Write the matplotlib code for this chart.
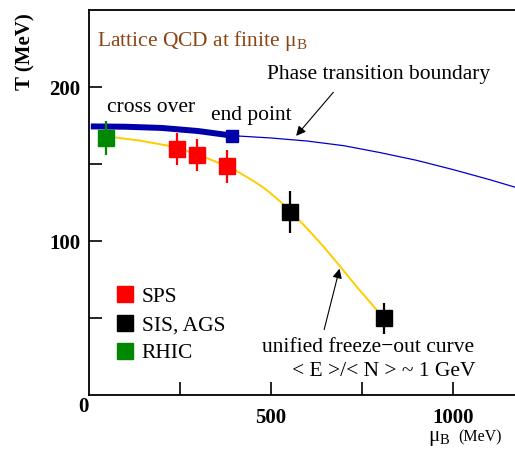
import matplotlib.pyplot as plt
from matplotlib.lines import Line2D

plt.rcParams['font.family'] = ['Liberation Serif', 'DejaVu Serif']
plt.rcParams['mathtext.fontset'] = 'custom'
plt.rcParams['mathtext.rm'] = 'Liberation Serif'
plt.rcParams['mathtext.it'] = 'Liberation Serif:italic'

# data (mu_B in MeV, T in MeV)
sps_mu = [243, 297, 378]
sps_T = [160, 156, 148.6]
sps_err = [10.5, 10.6, 10.6]
sis_mu = [552, 810]
sis_T = [119, 50]
sis_err = [13.3, 10.3]
rhic_mu = [47]
rhic_T = [167]
rhic_err = [10.8]
end_mu = [394]
end_T = [168.5]

# lattice cross over (thick) and phase transition boundary (thin)
cross_mu = [5, 100, 200, 300, 394]
cross_T = [174.5, 174.3, 173.5, 171.5, 168.5]
phase_mu = [394, 500, 600, 700, 800, 900, 1000, 1100, 1200]
phase_T = [168.5, 167, 165, 162, 157.5, 152.5, 146.5, 140, 133]

# unified freeze-out curve
fo_mu = [47, 70, 140, 213, 270, 323, 351, 401, 451, 475, 497, 529, 552, 580, 612, 644, 690,
         735, 790, 810]
fo_T = [167, 167.4, 165.3, 162.2, 158.5, 154, 151.4, 146.2, 139.2, 135.5, 131.5, 125, 119.5,
        113, 105, 96.6, 83.6, 70.6, 55.5, 50]

fig = plt.figure(figsize=(5.15, 4.57), dpi=100)
ax = fig.add_axes([0.1728, 0.1346, 0.8272, 0.8435])
ax.set_xlim(0, 1170)
ax.set_ylim(0, 250)

ax.plot(fo_mu, fo_T, color='#ffcc00', lw=1.4, zorder=2)
ax.plot(cross_mu, cross_T, color='#0000aa', lw=4.3, solid_capstyle='butt', zorder=3)
ax.plot(phase_mu, phase_T, color='#0000cc', lw=0.9, zorder=3)

def points(mu, T, err, c):
    ax.errorbar(mu, T, yerr=err, fmt='s', color=c, ms=11.5, mec=c, elinewidth=1.6,
                capsize=0, zorder=4)

points(sps_mu, sps_T, sps_err, '#ff0000')
points(sis_mu, sis_T, sis_err, 'black')
points(rhic_mu, rhic_T, rhic_err, '#008800')
ax.plot(end_mu, end_T, 's', color='#0000aa', ms=8.5, zorder=5)

# texts
fs = 15.5
ax.text(22, 226.5, 'Lattice QCD at finite μ$_\\mathrm{B}$', color='#8B4513', fontsize=fs,
        va='baseline')
ax.text(488, 205.5, 'Phase transition boundary', fontsize=fs, va='baseline')
ax.text(49, 183.6, 'cross over', fontsize=fs, va='baseline')
ax.text(335, 178.4, 'end point', fontsize=fs, va='baseline')
ax.text(476, 28.4, 'unified freeze\u2212out curve', fontsize=fs, va='baseline')
ax.text(558, 12.7, '< E >/< N > ~ 1 GeV', fontsize=fs, va='baseline')

arrow = dict(arrowstyle='-|>', color='black', lw=0.8, mutation_scale=14)
ax.annotate('', xy=(564, 167), xytext=(676, 198), arrowprops=arrow)
ax.annotate('', xy=(690, 84), xytext=(644, 41), arrowprops=arrow)

# legend
handles = [Line2D([], [], ls='none', marker='s', ms=11.5, color=c)
           for c in ['#ff0000', 'black', '#008800']]
ax.legend(handles, ['SPS', 'SIS, AGS', 'RHIC'], loc='upper left',
          bbox_to_anchor=(0.04, 0.31), frameon=False, fontsize=fs,
          handlelength=0.8, handletextpad=0.35, labelspacing=0.38, borderpad=0)

# axes styling
ax.spines['right'].set_visible(False)
for s in ['left', 'bottom', 'top']:
    ax.spines[s].set_linewidth(1.3)
ax.set_xticks([250, 500, 750, 1000])
ax.set_xticklabels(['', '500', '', '1000'])
ax.set_yticks([50, 100, 150, 200])
ax.set_yticklabels(['', '100', '', '200'])
ax.tick_params(direction='in', length=9.5, width=1.2, labelsize=15, pad=6)
ax.tick_params(axis='x', pad=9)
for lab in ax.get_xticklabels() + ax.get_yticklabels():
    lab.set_fontweight('bold')
ax.text(-0.002, -0.029, '0', transform=ax.transAxes, fontsize=15, fontweight='bold',
        ha='right', va='center')

fig.text(25 / 515, 1 - 51.5 / 457, 'T (MeV)', fontsize=15, fontweight='bold',
         rotation=90, ha='center', va='center')
fig.text(428 / 515, 1 - 441 / 457, 'μ$_\\mathrm{B}$', fontsize=15, va='baseline')
fig.text(458 / 515, 1 - 441 / 457, '(MeV)', fontsize=11.5, va='baseline')

fig.savefig('out.png', dpi=100)
